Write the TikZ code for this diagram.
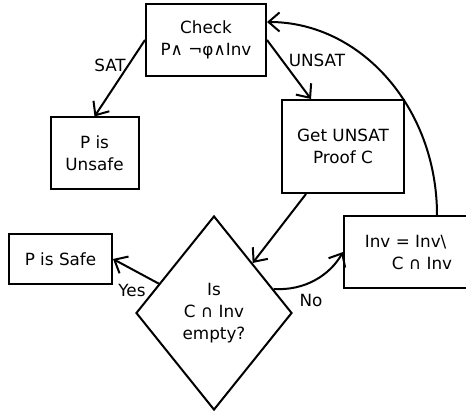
\documentclass[tikz,border=0pt]{standalone}
\usepackage{fontspec}
\setmainfont{DejaVu Sans}
\usetikzlibrary{arrows.meta,shapes.geometric,calc}
\begin{document}
\begin{tikzpicture}[x=1pt,y=1pt,
  every node/.style={font=\fontsize{16.8}{22}\selectfont},
  box/.style={draw, line width=2pt, rectangle, inner sep=0pt, align=center},
  decision/.style={draw, line width=2pt, diamond, inner sep=0pt, align=center},
  flow/.style={line width=2pt, -{Straight Barb[length=11pt,width=19pt]}},
  edgelabel/.style={inner sep=0pt}]
\useasboundingbox (0,0) rectangle (466,415);

% process boxes
\node[box, minimum width=120pt, minimum height=72pt] (check) at (206,375) {Check\\P∧ ¬φ∧Inv};
\node[box, minimum width=88pt, minimum height=72pt] (unsafe) at (94.5,261.5) {P is\\Unsafe};
\node[box, minimum width=122pt, minimum height=93pt] (proof) at (343,268.5) {Get UNSAT\\Proof C};
\node[box, minimum width=103pt, minimum height=50pt] (safe) at (60.5,156) {P is Safe};
\node[box, align=left, minimum width=129pt, minimum height=72pt] (inv) at (408.5,163) {Inv = Inv\textbackslash\\\hspace*{27pt}C ∩ Inv};

% decision
\node[decision, minimum width=156pt, minimum height=194pt] (dia) at (214,102) {Is\\C ∩ Inv\\empty?};

% connectors
\draw[flow] (check.west) -- (unsafe.north);
\draw[flow] (check.east) -- ([xshift=-32pt]proof.north);
\draw[flow] ([xshift=-37pt]proof.south) -- (dia);
\draw[flow] ($(dia.west)!0.3!(dia.north)$) -- (safe.east);
\draw[flow] ($(dia.north)!0.755!(dia.east)$) .. controls (305,124) and (330,140) .. (inv.west);
\draw[flow] ([xshift=28.5pt]inv.north) .. controls (437,307) and (361,393) .. ([yshift=18pt]check.east);

% edge labels
\node[edgelabel] (lsat) at (110,350) {SAT};
\node[edgelabel] (lunsat) at (317,355) {UNSAT};
\node[edgelabel] (lyes) at (132,125) {Yes};
\node[edgelabel] (lno) at (311,115) {No};
\end{tikzpicture}
\end{document}
